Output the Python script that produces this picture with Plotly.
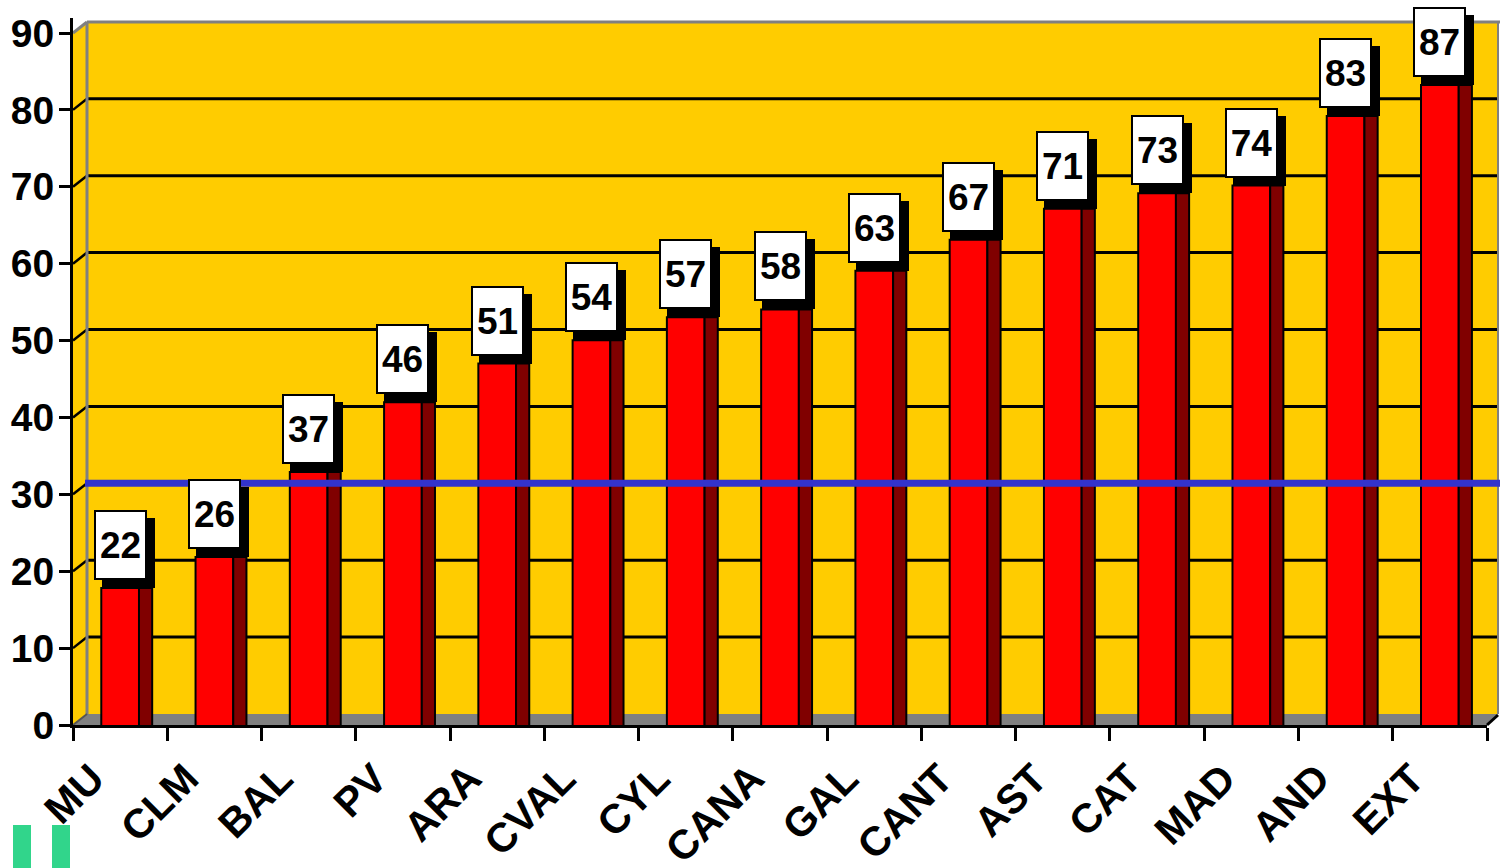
import plotly.graph_objects as go

# ---------------- data ----------------
categories = ["MU", "CLM", "BAL", "PV", "ARA", "CVAL", "CYL", "CANA",
              "GAL", "CANT", "AST", "CAT", "MAD", "AND", "EXT"]
values = [22, 26, 37, 46, 51, 54, 57, 58, 63, 67, 71, 73, 74, 83, 87]
y_ticks = [0, 10, 20, 30, 40, 50, 60, 70, 80, 90]
grid_values = [10, 20, 30, 40, 50, 60, 70, 80]
reference_value = 30

# ---------------- geometry of the pseudo-3D frame (pixels) ----------------
W, H = 1500, 868
L, R, T, B = 73, 1487, 18, 725          # plot area
FRONT_PER_UNIT = 692 / 90                # front axis: 0 at 725, 90 at 33
BACK_ZERO, BACK_PER_UNIT = 714, 7.69     # back wall: 0 at 714
BACK_LEFT, BACK_RIGHT, BACK_TOP = 87, 1498, 22
BAR_ZERO, BAR_PER_UNIT = 758.2, 7.738    # bars sit deeper in the 3D box

YELLOW = "#FFCC00"
GRAY = "#808080"
FONT = "Liberation Sans, Arial, Helvetica, sans-serif"


def px(xp):
    return (xp - L) / (R - L)


def py(yp):
    return (B - yp) / (B - T)


idx = list(range(len(categories)))

fig = go.Figure()

# invisible anchor on the primary axes
fig.add_trace(go.Scatter(x=[0], y=[0], mode="markers", marker=dict(opacity=0),
                         hoverinfo="skip", showlegend=False))

# front faces
fig.add_trace(go.Bar(x=idx, y=values, width=0.4, offset=-0.2, yaxis="y2",
                     marker=dict(color="#FF0000", line=dict(color="black", width=2)),
                     hoverinfo="skip", showlegend=False))
# side faces
fig.add_trace(go.Bar(x=idx, y=values, width=0.14, offset=0.2, yaxis="y2",
                     marker=dict(color="#800000", line=dict(color="black", width=2)),
                     hoverinfo="skip", showlegend=False))

shapes = []


def seg(x0, y0, x1, y1, color, width, layer="below"):
    shapes.append(dict(type="line", xref="paper", yref="paper",
                       x0=px(x0), y0=py(y0), x1=px(x1), y1=py(y1),
                       line=dict(color=color, width=width), layer=layer))


def poly(points, color, layer="below"):
    p = "M " + " L ".join(f"{px(a)},{py(b)}" for a, b in points) + " Z"
    shapes.append(dict(type="path", xref="paper", yref="paper", path=p,
                       fillcolor=color, line=dict(width=0), layer=layer))


front_top = B - 90 * FRONT_PER_UNIT
# back wall and side wall
poly([(BACK_LEFT, BACK_TOP), (BACK_RIGHT, BACK_TOP), (BACK_RIGHT, BACK_ZERO), (BACK_LEFT, BACK_ZERO)], YELLOW)
poly([(L, B), (L, front_top), (BACK_LEFT, BACK_TOP), (BACK_LEFT, BACK_ZERO)], YELLOW)
# floor
poly([(L, B), (BACK_LEFT, BACK_ZERO), (BACK_RIGHT, BACK_ZERO), (R, B)], GRAY)

# gridlines on back wall + side wall
for v in grid_values:
    yb = BACK_ZERO - BACK_PER_UNIT * v
    yf = B - FRONT_PER_UNIT * v
    seg(BACK_LEFT, yb, BACK_RIGHT, yb, "black", 3)
    seg(L, yf, BACK_LEFT, yb, "black", 2.5)

# wall edges
seg(BACK_LEFT, BACK_TOP, W, BACK_TOP, GRAY, 3)
seg(L, front_top, BACK_LEFT, BACK_TOP, GRAY, 3)
seg(BACK_LEFT, BACK_TOP, BACK_LEFT, BACK_ZERO, GRAY, 3)
seg(BACK_RIGHT, BACK_TOP, BACK_RIGHT, BACK_ZERO, GRAY, 2)
seg(L, B, BACK_LEFT, BACK_ZERO, "#555555", 2)
seg(R, B, BACK_RIGHT, BACK_ZERO + 1, "black", 3, layer="above")

# reference line (above bars)
yref_line = BACK_ZERO - BACK_PER_UNIT * reference_value
seg(85, yref_line, W, yref_line, "#3333CC", 7, layer="above")

# green remnant bottom-left
for x0, x1 in [(13, 31), (52, 70)]:
    poly([(x0, 825), (x1, 825), (x1, H), (x0, H)], "#31D58B", layer="above")

# value labels (box + shadow)
annotations = []
for i, v in zip(idx, values):
    common = dict(x=i, y=v, xref="x", yref="y2", text=f"<b>{v}</b>", showarrow=False,
                  xanchor="center", yanchor="middle", width=49, height=66,
                  borderwidth=2, borderpad=0, valign="middle",
                  font=dict(family=FONT, size=37, color="black"))
    annotations.append(dict(common, bgcolor="black", bordercolor="black",
                            xshift=8, yshift=35))
    annotations.append(dict(common, bgcolor="white", bordercolor="black",
                            xshift=0, yshift=43))

fig.update_layout(
    width=W, height=H,
    margin=dict(l=L, r=W - R, t=T, b=H - B, autoexpand=False),
    paper_bgcolor="white", plot_bgcolor="rgba(0,0,0,0)",
    barmode="overlay", showlegend=False,
    font=dict(family=FONT, color="black"),
    xaxis=dict(range=[-0.5, 14.5], tickvals=idx, ticktext=categories,
               tickangle=-45, ticks="", showgrid=False, zeroline=False,
               showline=True, linecolor="black", linewidth=3, automargin=False,
               ticklabelstandoff=10, ticklabelshift=-28,
               tickfont=dict(family=FONT, size=41, weight="bold"),
               minor=dict(tickvals=[i - 0.5 for i in range(len(categories) + 1)],
                          ticks="outside", ticklen=13, tickwidth=3, tickcolor="black",
                          showgrid=False)),
    yaxis=dict(range=[0, (B - T) / FRONT_PER_UNIT], tickvals=y_ticks,
               ticks="outside", ticklen=11, tickwidth=3, tickcolor="black",
               showgrid=False, zeroline=False, showline=True, automargin=False,
               linecolor="black", linewidth=3, ticklabelstandoff=-3,
               tickfont=dict(family=FONT, size=39, weight="bold")),
    yaxis2=dict(overlaying="y", visible=False,
                range=[(BAR_ZERO - B) / BAR_PER_UNIT, (BAR_ZERO - T) / BAR_PER_UNIT]),
    shapes=shapes, annotations=annotations,
)

fig.write_html("out.html")
